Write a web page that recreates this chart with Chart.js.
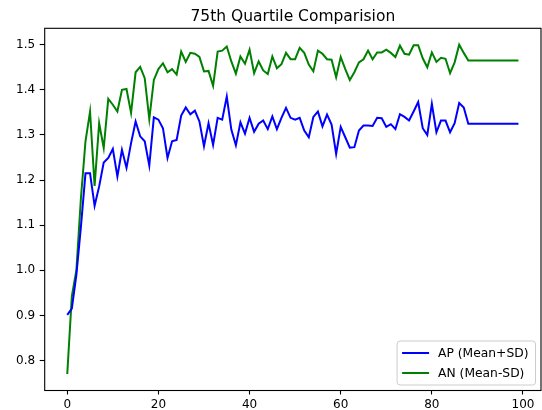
<!DOCTYPE html>
<html>
<head>
<meta charset="utf-8">
<script src="https://cdn.jsdelivr.net/npm/chart.js@4"></script>
<style>
    html, body { margin: 0; padding: 0; background: #fff; }
    #wrap { width: 542px; height: 410px; }
</style>
</head>
<body>
<div id="wrap"><canvas id="quartileChart" width="542" height="410"></canvas></div>
<script>
// --- Data ---
let chartTitle = '75th Quartile Comparision';
let seriesNames = ['AP (Mean+SD)', 'AN (Mean-SD)'];
let seriesColors = ['#0000ff', '#008000'];

// AP (Mean+SD), one value per index 0..99
let apValues = [
    0.901, 0.915, 0.990, 1.097, 1.215, 1.215, 1.143, 1.186, 1.239, 1.249,
    1.269, 1.208, 1.267, 1.227, 1.282, 1.330, 1.297, 1.286, 1.232, 1.339,
    1.334, 1.315, 1.249, 1.286, 1.289, 1.343, 1.361, 1.346, 1.354, 1.330,
    1.275, 1.326, 1.278, 1.338, 1.334, 1.385, 1.312, 1.277, 1.328, 1.303,
    1.338, 1.307, 1.325, 1.332, 1.313, 1.341, 1.313, 1.338, 1.360, 1.338,
    1.334, 1.338, 1.310, 1.295, 1.340, 1.352, 1.319, 1.345, 1.323, 1.258,
    1.318, 1.295, 1.272, 1.273, 1.310, 1.321, 1.321, 1.320, 1.338, 1.337,
    1.318, 1.324, 1.313, 1.346, 1.340, 1.332, 1.352, 1.373, 1.315, 1.300,
    1.369, 1.306, 1.332, 1.332, 1.306, 1.326, 1.371, 1.361, 1.325, 1.325,
    1.325, 1.325, 1.325, 1.325, 1.325, 1.325, 1.325, 1.325, 1.325, 1.325
];

// AN (Mean-SD)
let anValues = [
    0.770, 0.942, 1.000, 1.160, 1.286, 1.352, 1.187, 1.326, 1.271, 1.380,
    1.367, 1.352, 1.400, 1.402, 1.349, 1.439, 1.451, 1.426, 1.335, 1.422,
    1.446, 1.459, 1.439, 1.446, 1.434, 1.485, 1.462, 1.482, 1.480, 1.473,
    1.441, 1.442, 1.409, 1.485, 1.487, 1.496, 1.463, 1.436, 1.474, 1.458,
    1.489, 1.437, 1.463, 1.443, 1.435, 1.474, 1.448, 1.457, 1.482, 1.468,
    1.468, 1.493, 1.482, 1.456, 1.441, 1.487, 1.480, 1.468, 1.467, 1.428,
    1.473, 1.446, 1.422, 1.439, 1.461, 1.468, 1.487, 1.468, 1.483, 1.483,
    1.489, 1.482, 1.473, 1.498, 1.480, 1.478, 1.499, 1.499, 1.470, 1.450,
    1.483, 1.462, 1.471, 1.469, 1.437, 1.461, 1.500, 1.482, 1.465, 1.465,
    1.465, 1.465, 1.465, 1.465, 1.465, 1.465, 1.465, 1.465, 1.465, 1.465
];

let xTicks = [0, 20, 40, 60, 80, 100];
let yTicks = [0.8, 0.9, 1.0, 1.1, 1.2, 1.3, 1.4, 1.5];

let font = 'DejaVu Sans';

// turn a value array into {x, y} points, x = index
function toPoints(values) {
    return values.map(function (v, i) { return { x: i, y: v }; });
}

// Axes box, title and legend drawn the matplotlib way
let frameAndLabels = {
    id: 'frameAndLabels',
    afterDraw: function (chart) {
        let ctx = chart.ctx;
        let ca = chart.chartArea;
        ctx.save();

        // axes frame
        ctx.strokeStyle = '#000';
        ctx.lineWidth = 1.1;
        ctx.strokeRect(ca.left, ca.top, ca.right - ca.left, ca.bottom - ca.top);

        // title
        ctx.fillStyle = '#000';
        ctx.font = '15.5px "' + font + '"';
        ctx.textAlign = 'center';
        ctx.textBaseline = 'alphabetic';
        ctx.fillText(chartTitle, (ca.left + ca.right) / 2, 20.7);

        // legend (lower right)
        ctx.font = '12.3px "' + font + '"';
        let padL = 5, padR = 7, handleLen = 27, handleGap = 9;
        let rowH = 14, rowGap = 6, padV = 5;
        let textW = Math.max.apply(null, chart.data.datasets.map(function (ds) {
            return ctx.measureText(ds.label).width;
        }));
        let boxW = padL + handleLen + handleGap + textW + padR;
        let boxH = 2 * padV + 2 * rowH + rowGap;
        let boxR = ca.right - 5.5;
        let boxB = ca.bottom - 5.5;
        let boxL = boxR - boxW, boxT = boxB - boxH;
        ctx.beginPath();
        ctx.roundRect(boxL, boxT, boxW, boxH, 3);
        ctx.fillStyle = 'rgba(255,255,255,0.8)';
        ctx.fill();
        ctx.strokeStyle = '#cccccc';
        ctx.lineWidth = 1;
        ctx.stroke();

        ctx.textAlign = 'left';
        ctx.textBaseline = 'middle';
        chart.data.datasets.forEach(function (ds, i) {
            let y = boxT + padV + rowH / 2 + i * (rowH + rowGap);
            ctx.strokeStyle = ds.borderColor;
            ctx.lineWidth = 2;
            ctx.beginPath();
            ctx.moveTo(boxL + padL, y);
            ctx.lineTo(boxL + padL + handleLen, y);
            ctx.stroke();
            ctx.fillStyle = '#000';
            ctx.fillText(ds.label, boxL + padL + handleLen + handleGap, y + 0.5);
        });

        ctx.restore();
    }
};

let quartileCanvas = document.getElementById('quartileChart').getContext('2d');

let quartileChart = new Chart(quartileCanvas, {
    type: 'line',
    data: {
        datasets: [
            {
                label: seriesNames[0],
                data: toPoints(apValues),
                borderColor: seriesColors[0],
                backgroundColor: seriesColors[0],
                borderWidth: 2,
                pointRadius: 0,
                fill: false,
                tension: 0
            },
            {
                label: seriesNames[1],
                data: toPoints(anValues),
                borderColor: seriesColors[1],
                backgroundColor: seriesColors[1],
                borderWidth: 2,
                pointRadius: 0,
                fill: false,
                tension: 0
            }
        ]
    },
    options: {
        responsive: false,
        animation: false,
        layout: {
            padding: { top: 28.3, right: 1, left: 0, bottom: 0 }
        },
        plugins: {
            legend: { display: false },
            title: { display: false },
            tooltip: { enabled: false }
        },
        scales: {
            x: {
                type: 'linear',
                min: -4.95,
                max: 103.95,
                border: { display: false },
                grid: {
                    drawOnChartArea: false,
                    drawTicks: true,
                    tickLength: 4,
                    tickColor: '#000',
                    tickWidth: 1.1
                },
                afterBuildTicks: function (scale) {
                    scale.ticks = xTicks.map(function (v) { return { value: v }; });
                },
                afterFit: function (scale) {
                    scale.height = 19.5;
                },
                ticks: {
                    autoSkip: false,
                    maxRotation: 0,
                    padding: 3.5,
                    color: '#000',
                    font: { family: font, size: 12 },
                    callback: function (v) { return String(v); }
                }
            },
            y: {
                type: 'linear',
                min: 0.7335,
                max: 1.5365,
                border: { display: false },
                grid: {
                    drawOnChartArea: false,
                    drawTicks: true,
                    tickLength: 5,
                    tickColor: '#000',
                    tickWidth: 1.1
                },
                afterBuildTicks: function (scale) {
                    scale.ticks = yTicks.map(function (v) { return { value: v }; });
                },
                afterFit: function (scale) {
                    scale.width = 44.7;
                },
                ticks: {
                    autoSkip: false,
                    padding: 4.5,
                    color: '#000',
                    font: { family: font, size: 12 },
                    callback: function (v) { return Number(v).toFixed(1); }
                }
            }
        }
    },
    plugins: [frameAndLabels]
});
</script>
</body>
</html>
